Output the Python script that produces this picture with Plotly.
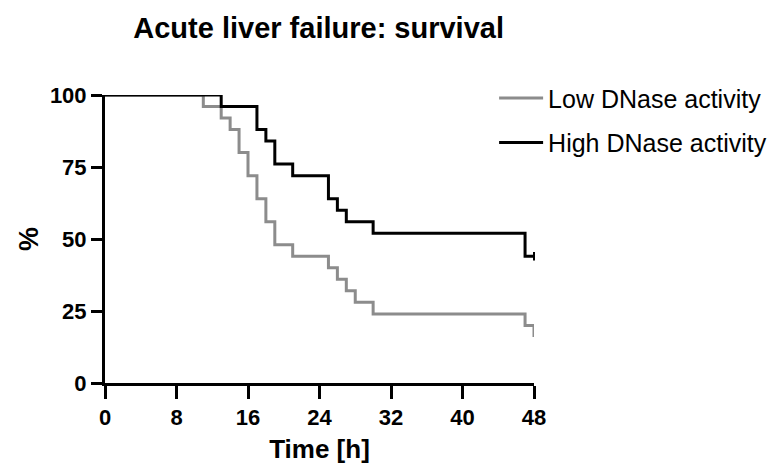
import plotly.graph_objects as go

low_time = [0, 11, 13, 14, 15, 16, 17, 18, 19, 21, 25, 26, 27, 28, 30, 47, 48]
low_surv = [100, 96, 92, 88, 80, 72, 64, 56, 48, 44, 40, 36, 32, 28, 24, 20, 16]
high_time = [0, 13, 17, 18, 19, 21, 25, 26, 27, 30, 47, 48]
high_surv = [100, 96, 88, 84, 76, 72, 64, 60, 56, 52, 44, 44]
high_censor_time = [48]
high_censor_surv = [44]

x_ticks = [0, 8, 16, 24, 32, 40, 48]
y_ticks = [0, 25, 50, 75, 100]

FONT = "Liberation Sans, Arial, sans-serif"

fig = go.Figure()
fig.add_trace(go.Scatter(
    x=low_time, y=low_surv, mode="lines", line_shape="hv",
    line=dict(color="#8c8c8c", width=3),
    name="Low DNase activity", legendgroup="low", cliponaxis=False,
))
fig.add_trace(go.Scatter(
    x=high_time, y=high_surv, mode="lines", line_shape="hv",
    line=dict(color="#000000", width=3),
    name="High DNase activity", legendgroup="high", cliponaxis=False,
))
fig.add_trace(go.Scatter(
    x=high_censor_time, y=high_censor_surv, mode="markers",
    marker=dict(symbol="line-ns", size=6, line=dict(color="black", width=2)),
    showlegend=False, cliponaxis=False, hoverinfo="skip",
))

fig.update_layout(
    width=767, height=458,
    margin=dict(l=97, r=241, t=87, b=83, autoexpand=False),
    plot_bgcolor="white", paper_bgcolor="white",
    title=dict(text="<b>Acute liver failure: survival</b>", x=0.405, xanchor="center",
               y=0.957, yanchor="middle", font=dict(family=FONT, size=29, color="black")),
    font=dict(family=FONT, color="black"),
    showlegend=True,
    legend=dict(x=0.907, y=1.069, xanchor="left", yanchor="top",
                font=dict(family=FONT, size=25, color="black"),
                tracegroupgap=9, itemwidth=44, bgcolor="rgba(0,0,0,0)"),
    xaxis=dict(range=[0, 48], tickvals=x_ticks, ticktext=[str(v) for v in x_ticks],
               showline=True, linecolor="black", linewidth=3, showgrid=False, zeroline=False,
               ticks="outside", ticklen=13, tickwidth=3, tickcolor="black",
               tickfont=dict(family=FONT, size=22, color="black", weight="bold"),
               title=dict(text="<b>Time [h]</b>", font=dict(family=FONT, size=26, color="black"), standoff=11)),
    yaxis=dict(range=[0, 100], tickvals=y_ticks, ticktext=[str(v) for v in y_ticks],
               showline=True, linecolor="black", linewidth=3, showgrid=False, zeroline=False,
               ticks="outside", ticklen=11, tickwidth=3, tickcolor="black",
               tickfont=dict(family=FONT, size=22, color="black", weight="bold"),
               title=dict(text="<b>%</b>", font=dict(family=FONT, size=27, color="black"), standoff=4)),
)

fig.write_html("out.html")
